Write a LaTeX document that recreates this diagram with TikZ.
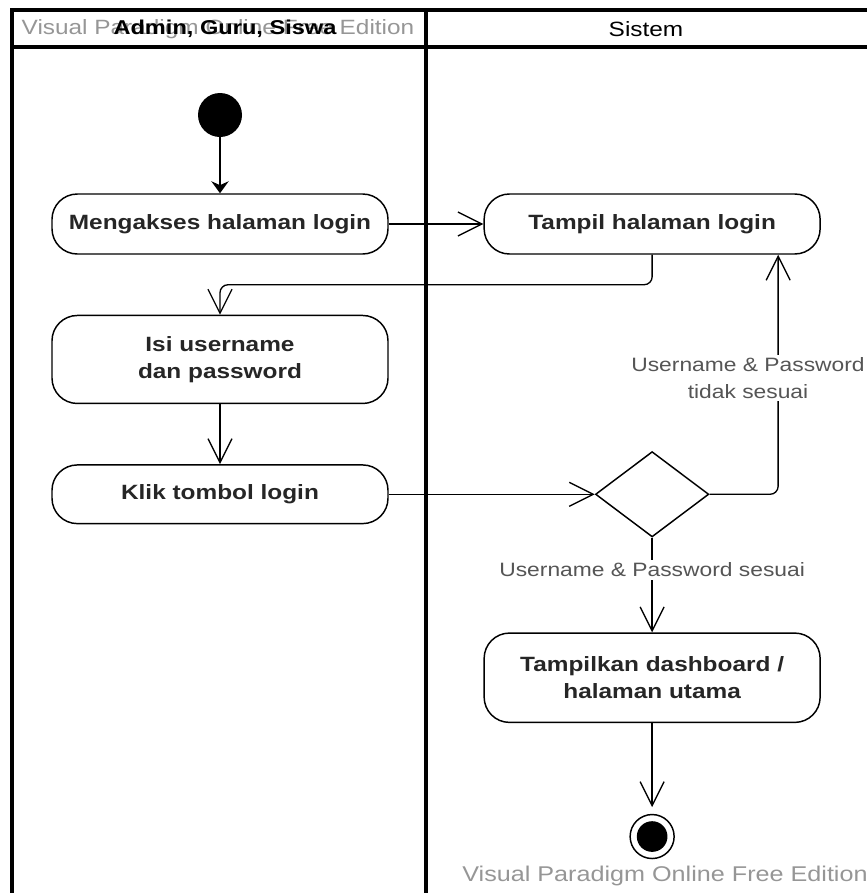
\documentclass[tikz,border=0pt]{standalone}
\usepackage{fontspec}
\setmainfont{Liberation Sans}[FakeStretch=1.18]
\usetikzlibrary{shapes.geometric, arrows.meta, calc, positioning}
\definecolor{labelgray}{RGB}{85,85,85}
\definecolor{markgray}{RGB}{150,150,150}
\tikzstyle{activity} = [rectangle, rounded corners=19pt, minimum width=252pt, minimum
height=45pt, align=center, draw=black, line width=1.1pt, text=black!85,
font=\bfseries\fontsize{15.5}{20}\selectfont]
\tikzstyle{decision} = [diamond, draw=black, line width=1.1pt, minimum width=85pt,
minimum height=64pt, inner sep=0pt]
\tikzstyle{guard} = [fill=white, align=center, text=labelgray, inner sep=2pt,
font=\fontsize{14.5}{20}\selectfont]
\tikzstyle{lane} = [line width=2.3pt]
\tikzstyle{arrow} = [line width=1pt,-{Straight Barb[length=18pt,width=18pt,line width=1pt]}]

\begin{document}
\begin{tikzpicture} [x=0.75pt, y=0.75pt, node distance=45pt]
  \useasboundingbox (0,0) rectangle (867,-893);
  % swimlanes
  \draw[lane] (867,-10) -- (12,-10) -- (12,-893);
  \draw[lane] (12,-47) -- (867,-47);
  \draw[lane] (426,-10) -- (426,-893);
  \node (wmtop) [text=markgray, font=\fontsize{15.5}{18}\selectfont] at (218,-29) {Visual Paradigm Online Free Edition};
  \node (admin) [font=\bfseries\fontsize{15}{18}\selectfont] at (225,-29) {Admin, Guru, Siswa};
  \node (sistem) [font=\fontsize{15.5}{18}\selectfont] at (646,-29) {Sistem};

  \node (start) [circle, fill=black, minimum size=33pt, inner sep=0pt] at (220,-115) {};
  \node (akses) [activity, below=42pt of start] {Mengakses halaman login};
  \node (isi) [activity, below=of akses, minimum height=66pt] {Isi username\\dan password};
  \node (klik) [activity, below=of isi, minimum height=44pt] {Klik tombol login};
  \node (tampil) [activity, right=71pt of akses] {Tampil halaman login};
  \node (cek) [decision] at (tampil |- klik) {};
  \node (dashboard) [activity, below=71pt of cek, minimum height=67pt] {Tampilkan dashboard /\\halaman utama};
  \node (finish) [circle, draw=black, line width=1.1pt, minimum size=33pt, inner sep=0pt, below=68pt of dashboard] {};
  \node (finishdot) [circle, fill=black, minimum size=23pt, inner sep=0pt] at (finish) {};

  \draw[line width=1pt, -{Stealth[length=9pt,width=13pt]}] (start) -- (akses);
  \draw[arrow] (akses) -- (tampil);
  \draw[arrow, rounded corners=6pt] (tampil.south) -- ++(0,-30) -| (isi.north);
  \draw[arrow] (isi) -- (klik);
  \draw[arrow] (klik) -- (cek);
  \draw[arrow, rounded corners=6pt] (cek.east) -| ($(tampil.south)+(126,0)$);
  \draw[arrow] (cek) -- (dashboard);
  \draw[arrow, shorten >=5pt] (dashboard) -- (finish);

  \node (tidak) [guard] at (748,-378) {Username \& Password\\tidak sesuai};
  \node (sesuai) [guard] at (cek.south |- 0,-570) {Username \& Password sesuai};
  \node (wmbottom) [text=markgray, font=\fontsize{16}{18}\selectfont] at (665,-876) {Visual Paradigm Online Free Edition};
\end{tikzpicture}
\end{document}
